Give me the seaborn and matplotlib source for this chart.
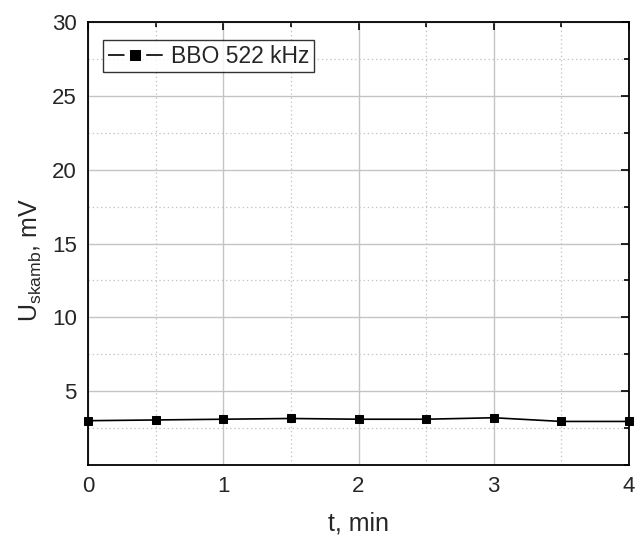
import matplotlib
matplotlib.use("Agg")
import matplotlib.pyplot as plt
import seaborn as sns
import pandas as pd
from matplotlib.ticker import MultipleLocator

t_min = [0, 0.5, 1, 1.5, 2, 2.5, 3, 3.5, 4]
u_mv = [3.0, 3.05, 3.1, 3.15, 3.1, 3.1, 3.2, 2.95, 2.95]
series_label = "BBO 522 kHz"

sns.set_style("white")
plt.rcParams["font.family"] = ["Liberation Sans", "DejaVu Sans"]
plt.rcParams["lines.scale_dashes"] = False

df = pd.DataFrame({"t": t_min, "U": u_mv, "series": series_label})

fig = plt.figure(figsize=(6.35, 5.39), dpi=100)
ax = fig.add_axes([88 / 635, 1 - 465 / 539, 541 / 635, 443 / 539])

sns.lineplot(data=df, x="t", y="U", hue="series", palette=["black"],
             marker="s", markersize=6.3, markeredgecolor="black",
             linewidth=1.2, ax=ax, clip_on=False, zorder=5)

ax.set_xlim(0, 4)
ax.set_ylim(0, 30)
ax.xaxis.set_major_locator(MultipleLocator(1))
ax.xaxis.set_minor_locator(MultipleLocator(0.5))
ax.yaxis.set_minor_locator(MultipleLocator(2.5))
ax.set_yticks([5, 10, 15, 20, 25, 30])

ax.grid(True, which="major", color="#c4c4c4", linewidth=1.0, linestyle="-")
ax.grid(True, which="minor", color="#c4c4c4", linewidth=0.9, linestyle=(0, (1, 2)))
ax.set_axisbelow(True)

ax.tick_params(which="both", direction="in", top=True, right=True,
               color="black", width=1.2)
ax.tick_params(which="major", length=6, labelsize=16, pad=8)
ax.tick_params(which="minor", length=3.5)
for s in ax.spines.values():
    s.set_color("black")
    s.set_linewidth(1.3)

ax.set_xlabel("t, min", fontsize=18)
ax.xaxis.set_label_coords(0.5, -0.105)
ax.set_ylabel(r"U$_{\mathregular{skamb}}$, mV", fontsize=18)
ax.yaxis.set_label_coords(-0.082, 0.463)

leg = ax.legend(loc="upper left", fontsize=16.5, frameon=True, fancybox=False,
                edgecolor="black", handlelength=2.4, handletextpad=0.35,
                borderpad=0.2, borderaxespad=0, bbox_to_anchor=(0.028, 0.959))
leg.get_frame().set_linewidth(1.0)
# legend sample: line broken around the marker
for ln in leg.get_lines():
    ln.set_linestyle((0, (11.9, 15.6)))
    ln.set_markersize(7)

fig.savefig("out.png", dpi=100)
